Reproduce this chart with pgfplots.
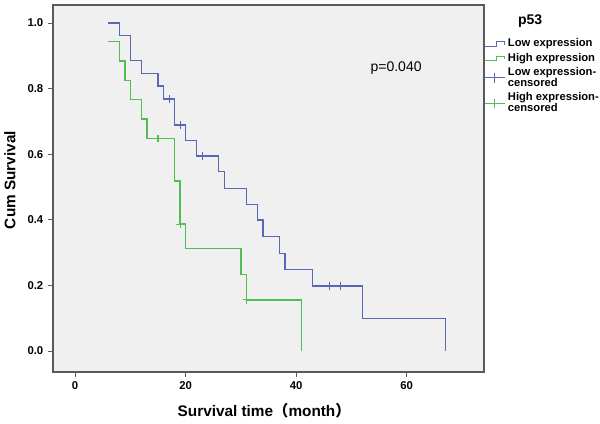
\documentclass[border=0pt]{standalone}
\usepackage{pgfplots}
\pgfplotsset{compat=1.18}
\usepackage{fontspec}
\setmainfont{Liberation Sans}
\newfontfamily\cjk{Noto Sans CJK SC}
\definecolor{lowc}{RGB}{88,104,182}
\definecolor{highc}{RGB}{82,190,82}
\definecolor{bgc}{RGB}{240,240,240}
\definecolor{framec}{RGB}{90,90,90}
\begin{document}
\begin{tikzpicture}
\begin{axis}[
  scale only axis,
  width=323.25pt, height=275.25pt,
  xmin=-4, xmax=74, ymin=-0.064, ymax=1.055,
  clip mode=individual,
  axis background/.style={fill=bgc},
  axis line style={framec, line width=0.8pt},
  xtick={0,20,40,60}, ytick={0,0.2,0.4,0.6,0.8,1.0},
  yticklabel style={/pgf/number format/.cd, fixed, fixed zerofill, precision=1},
  /pgf/number format/assume math mode=true,
  tick label style={font=\fontsize{8.5}{10}\selectfont\bfseries},
  tick align=outside, major tick length=3.75pt,
  tick style={framec, line width=0.6pt},
  xtick pos=bottom, ytick pos=left,
  xlabel={Survival time{\cjk （}month{\cjk ）}},
  ylabel={Cum Survival},
  label style={font=\fontsize{11.5}{13}\selectfont\bfseries},
  xlabel style={at={(axis description cs:0.49,-0.104)}, anchor=center},
  ylabel style={at={(axis description cs:-0.1,0.523)}, anchor=center},
  legend style={at={(axis description cs:1.0,0.911)}, anchor=north west,
    draw=none, fill=none, inner sep=0pt, row sep=2.2pt,
    font=\fontsize{8.4}{8.3}\selectfont\bfseries,
    cells={anchor=west, align=left},
    nodes={inner xsep=2pt, inner ysep=0.5pt}},
]
\addplot[const plot, lowc, line width=1.05pt,
  legend image code/.code={\draw[lowc, line width=0.8pt] (0pt,-2pt) -- (9pt,-2pt) -- (9pt,1.5pt) -- (14.5pt,1.5pt) -- (14.5pt,-0.8pt);}]
coordinates {(6,1.0) (8,0.962) (10,0.885) (12,0.846) (15,0.808) (16,0.769) (18,0.689) (20,0.641) (22,0.595) (26,0.547) (27,0.496) (31,0.447) (33,0.399) (34,0.349) (37,0.298) (38,0.249) (43,0.198) (52,0.099) (67,0.0)};
\addlegendentry{Low expression}
\addplot[const plot, highc, line width=1.05pt,
  legend image code/.code={\draw[highc, line width=0.8pt] (0pt,-2pt) -- (9pt,-2pt) -- (9pt,1.5pt) -- (14.5pt,1.5pt) -- (14.5pt,-0.8pt);}]
coordinates {(6,0.943) (8,0.884) (9,0.824) (10,0.767) (12,0.707) (13,0.648) (18,0.518) (19,0.387) (20,0.313) (30,0.234) (31,0.156) (41,0.0)};
\addlegendentry{High expression}
\addplot[only marks, mark=+, mark size=2.8pt, lowc, line width=0.8pt,
  legend image code/.code={\draw[lowc, line width=0.7pt] (0pt,0pt) -- (15pt,0pt); \draw[lowc, line width=0.7pt] (7.5pt,-3.5pt) -- (7.5pt,3.5pt);}]
coordinates {(17,0.769) (19,0.689) (23,0.595) (46,0.198) (48,0.198)};
\addlegendentry{Low expression-\\censored}
\addplot[only marks, mark=+, mark size=2.8pt, highc, line width=0.8pt,
  legend image code/.code={\draw[highc, line width=0.7pt] (0pt,0pt) -- (15pt,0pt); \draw[highc, line width=0.7pt] (7.5pt,-3.5pt) -- (7.5pt,3.5pt);}]
coordinates {(15,0.648) (19,0.387) (31,0.156)};
\addlegendentry{High expression-\\censored}
\node[font=\fontsize{10.5}{12}\selectfont] at (axis description cs:0.796,0.828) {p=0.040};
\node[font=\fontsize{10.5}{12}\selectfont\bfseries] at (axis description cs:1.107,0.956) {p53};
\end{axis}
\pgfresetboundingbox
\useasboundingbox ([shift={(-39.75pt,-38.25pt)}]current axis.south west) rectangle ([shift={(87pt,3.75pt)}]current axis.north east);
\end{tikzpicture}
\end{document}
